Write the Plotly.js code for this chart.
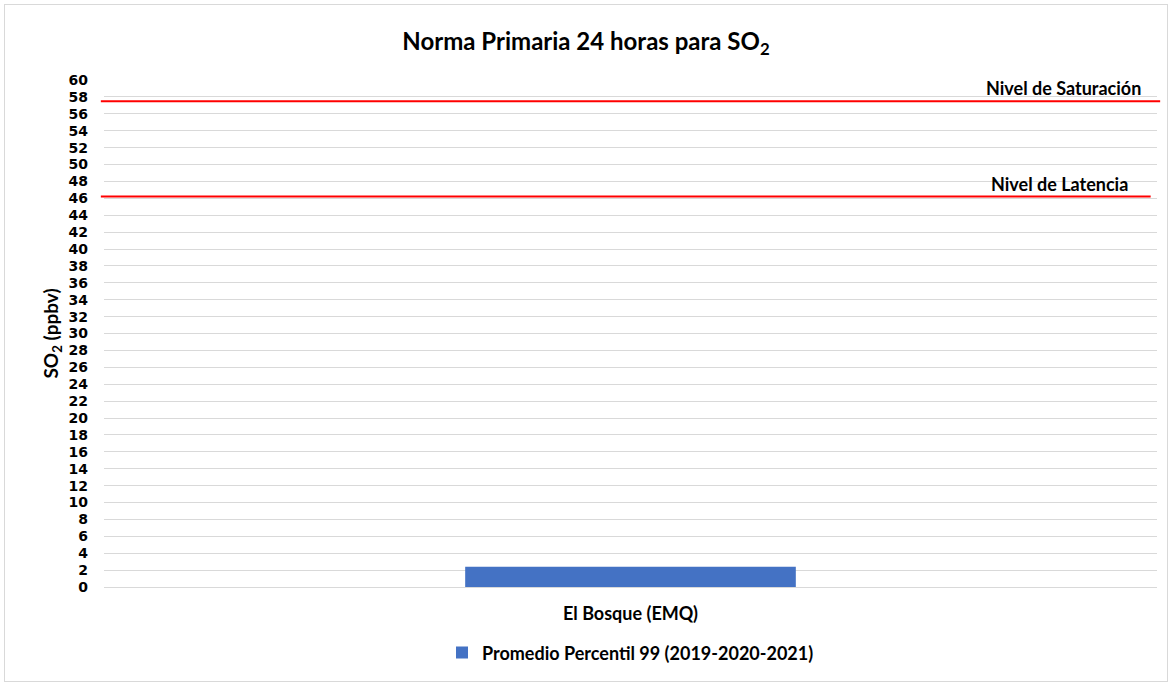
<!DOCTYPE html>
<html>
<head>
<meta charset="utf-8">
<script src="https://cdn.plot.ly/plotly-3.0.1.min.js"></script>
<style>
  html, body { margin: 0; padding: 0; background: #fff; }
  #chart { width: 1172px; height: 685px; }
  #frame { position: absolute; left: 4px; top: 4px; width: 1162px; height: 676px; border: 1px solid #d9d9d9; pointer-events: none; }
</style>
</head>
<body>
<div id="chart"></div>
<div id="frame"></div>
<script>
const categories = ["El Bosque (EMQ)"];
const seriesName = "Promedio Percentil 99 (2019-2020-2021)";
const values = [2.4];
const levelNames = ["Nivel de Saturación", "Nivel de Latencia"];
const levelValues = [57.5, 46.2];
const yTicks = [0,2,4,6,8,10,12,14,16,18,20,22,24,26,28,30,32,34,36,38,40,42,44,46,48,50,52,54,56,58,60];

const fontFam = "Lato, 'Open Sans', sans-serif";
const tickFam = "'DejaVu Sans', Lato, sans-serif";

const trace = {
  type: "bar",
  x: categories,
  y: values,
  name: seriesName,
  marker: { color: "#4472C4" },
  hoverinfo: "y"
};

const shapes = levelValues.map((v, i) => ({
  type: "line", xref: "paper", yref: "y",
  x0: -0.003, x1: i === 0 ? 1.003 : 0.994, y0: v, y1: v,
  line: { color: "#FF0000", width: 2 }
}));

const annotations = levelNames.map((n, i) => ({
  xref: "paper", yref: "y",
  x: i === 0 ? 0.987 : 0.974, y: levelValues[i],
  xanchor: "right", yanchor: "bottom", yshift: 0,
  text: n, showarrow: false,
  font: { family: fontFam, size: 18, color: "#000", weight: "bold" }
}));

const layout = {
  width: 1172, height: 685,
  margin: { l: 104, r: 15, t: 80, b: 98 },
  paper_bgcolor: "#fff", plot_bgcolor: "#fff",
  title: {
    text: "Norma Primaria 24 horas para SO<sub>2</sub>",
    x: 0.5, xanchor: "center", y: 0.939, yanchor: "middle",
    font: { family: fontFam, size: 24, color: "#000", weight: "bold" }
  },
  bargap: 0.686,
  xaxis: {
    type: "category",
    showgrid: false, showline: false, ticks: "",
    tickfont: { family: fontFam, size: 18, color: "#000", weight: "bold" },
    ticklabelstandoff: 14
  },
  yaxis: {
    range: [0, 60], tickvals: yTicks, ticktext: yTicks.map(String),
    showgrid: true, gridcolor: "#d9d9d9", gridwidth: 1,
    zeroline: true, zerolinecolor: "#d9d9d9", zerolinewidth: 1,
    showline: false, ticks: "",
    tickfont: { family: tickFam, size: 14, color: "#000", weight: "bold" },
    ticklabelstandoff: 15,
    title: {
      text: "SO<sub>2</sub> (ppbv)", standoff: 4,
      font: { family: fontFam, size: 19, color: "#000", weight: "bold" }
    }
  },
  showlegend: true,
  legend: {
    orientation: "h", x: 0.5, xanchor: "center", y: -0.13, yanchor: "middle",
    font: { family: fontFam, size: 18, color: "#000", weight: "bold" },
    itemwidth: 30
  },
  shapes: shapes,
  annotations: annotations
};

Plotly.newPlot("chart", [trace], layout, { displayModeBar: false, responsive: false });
</script>
</body>
</html>
